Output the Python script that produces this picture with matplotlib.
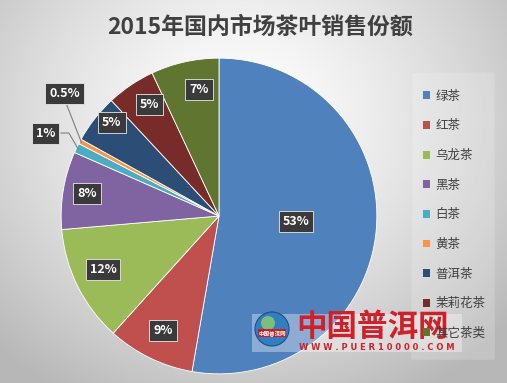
import numpy as np
import matplotlib.pyplot as plt
from matplotlib.patches import Circle, Rectangle

plt.rcParams['font.family'] = ['Noto Sans CJK SC', 'DejaVu Sans']

# data
categories = ['绿茶', '红茶', '乌龙茶', '黑茶', '白茶', '黄茶', '普洱茶', '茉莉花茶', '其它茶类']
shares = [53, 9, 12, 8, 1, 0.5, 5, 5, 7]
labels = ['53%', '9%', '12%', '8%', '1%', '0.5%', '5%', '5%', '7%']
colors = ['#4F81BD', '#C0504D', '#9BBB59', '#8064A2', '#4BACC6',
          '#F79646', '#2C4D75', '#772C2A', '#5F7530']

# label placement (radial distance, angle shift in degrees)
label_dist = [0.49, 0.81, 0.81, 0.85, 1.22, 1.25, 0.90, 0.83, 0.81]
label_shift = [0.6, 0, -1.5, -0.3, 0, -10.3, -3, -2, -3.5]

fig = plt.figure(figsize=(5.07, 3.83), dpi=100)

# background radial gradient
bg = fig.add_axes([0, 0, 1, 1])
yy, xx = np.mgrid[0:383, 0:507]
d = np.sqrt(((xx - 240) / 330.0) ** 2 + ((yy - 120) / 300.0) ** 2)
shade = np.clip(1.0 - 0.26 * d ** 1.4, 0.72, 1.0)
bg.imshow(np.dstack([shade] * 3), aspect='auto', extent=[0, 507, 383, 0])
bg.set_xlim(0, 507)
bg.set_ylim(383, 0)
bg.axis('off')

# legend panel
bg.add_patch(Rectangle((411, 72), 83, 287, facecolor='white', alpha=0.18,
                       edgecolor='#d8d8d8', lw=0.8))

ax = fig.add_axes([58 / 507, 1 - 377 / 383, 322 / 507, 322 / 383])
wedges, _ = ax.pie(shares, colors=colors, startangle=90, counterclock=False,
                   radius=1.0, wedgeprops=dict(linewidth=0.6, edgecolor='white'))
ax.set_xlim(-1.02, 1.02)
ax.set_ylim(-1.02, 1.02)
ax.set_aspect('equal')

box = dict(boxstyle='square,pad=0.32', facecolor='#3a3a3a', edgecolor='#e8e8e8', lw=0.6)
for w, lab, dist, shift in zip(wedges, labels, label_dist, label_shift):
    mid = np.deg2rad((w.theta1 + w.theta2) / 2 + shift)
    tx, ty = dist * np.cos(mid), dist * np.sin(mid)
    if dist > 1:
        edge = np.deg2rad((w.theta1 + w.theta2) / 2)
        ex, ey = 0.99 * np.cos(edge), 0.99 * np.sin(edge)
        if lab == '1%':
            ax.plot([tx + 0.1, tx + 0.15, ex], [ty, ty, ey], color='#7f7f7f', lw=0.8)
        else:
            ax.plot([tx, ex], [ty - 0.04, ey], color='#7f7f7f', lw=0.8)
    ax.text(tx, ty, lab, ha='center', va='center', color='white',
            fontsize=9, fontweight='bold', bbox=box, zorder=5)

fig.text(0.513, 0.928, '2015年国内市场茶叶销售份额', ha='center', va='center',
         fontsize=16.5, fontweight='bold', color='#404040')

# legend
handles = [Rectangle((0, 0), 1, 1, facecolor=c) for c in colors]
leg = fig.legend(handles, categories, loc='upper left', bbox_to_anchor=(0.812, 0.795),
                 frameon=False, fontsize=9, labelspacing=1.33, handlelength=0.6,
                 handleheight=0.6, handletextpad=0.4, labelcolor='#404040')

# watermark
wm = fig.add_axes([0, 0, 1, 1], facecolor='none')
wm.set_xlim(0, 507)
wm.set_ylim(383, 0)
wm.axis('off')
wm.add_patch(Rectangle((252, 314), 210, 38, facecolor='white', alpha=0.35, lw=0))
wm.add_patch(Circle((272, 329), 17, facecolor='#2f7fc1', edgecolor='#1c4f8a', lw=0.8))
wm.add_patch(Circle((268, 323), 7, facecolor='#8fd06a', alpha=0.8, lw=0))
wm.text(272, 333, '中国普洱网', ha='center', va='center', fontsize=4,
        fontweight='bold', color='white',
        bbox=dict(boxstyle='square,pad=0.1', facecolor='#c8202a', lw=0))
wm.text(296, 327, '中国普洱网', ha='left', va='center', fontsize=22,
        fontweight='bold', color='#d0202a')
wm.text(299, 348, 'W W W . P U E R 1 0 0 0 0 . C O M', ha='left', va='center',
        fontsize=6, fontweight='bold', color='#d0202a', family='DejaVu Sans')

fig.savefig('out.png', dpi=100)
